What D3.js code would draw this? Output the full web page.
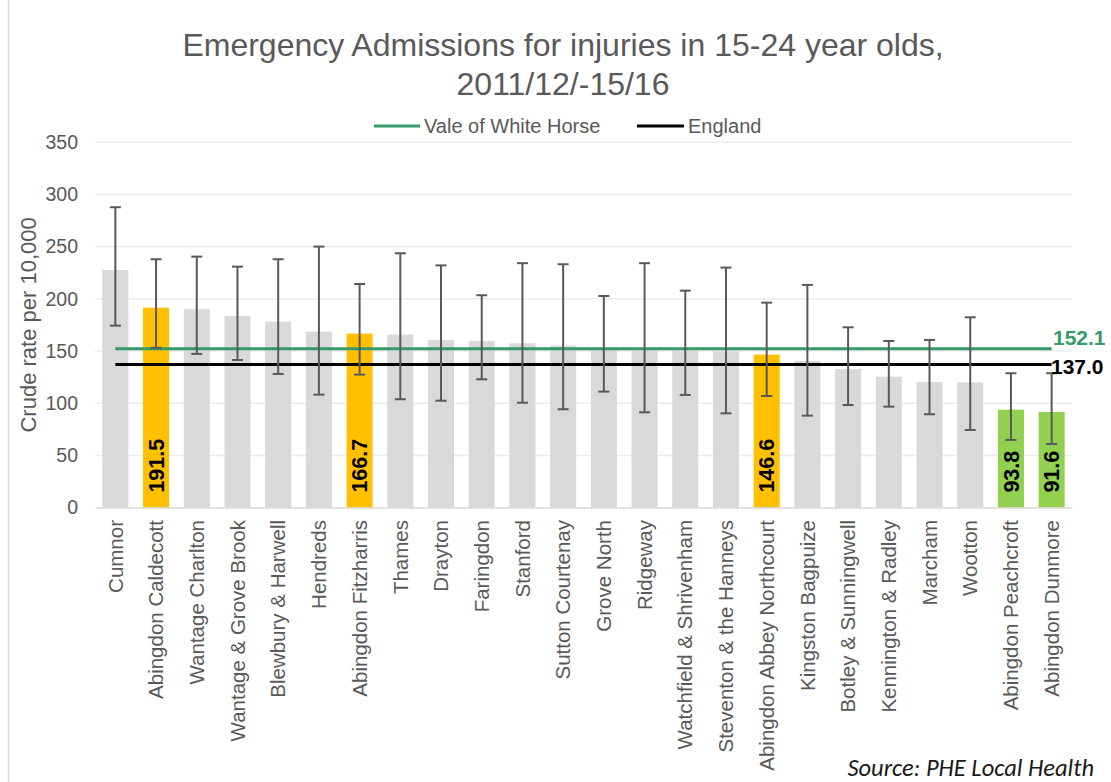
<!DOCTYPE html>
<html>
<head>
<meta charset="utf-8">
<script src="https://cdn.jsdelivr.net/npm/d3@7"></script>
<style>
  html, body { margin: 0; padding: 0; background: #ffffff; }
  svg { display: block; }
</style>
</head>
<body>
<svg id="chart" width="1111" height="782"></svg>
<script>
const categories = ["Cumnor", "Abingdon Caldecott", "Wantage Charlton", "Wantage & Grove Brook",
  "Blewbury & Harwell", "Hendreds", "Abingdon Fitzharris", "Thames", "Drayton", "Faringdon",
  "Stanford", "Sutton Courtenay", "Grove North", "Ridgeway", "Watchfield & Shrivenham",
  "Steventon & the Hanneys", "Abingdon Abbey Northcourt", "Kingston Bagpuize",
  "Botley & Sunningwell", "Kennington & Radley", "Marcham", "Wootton",
  "Abingdon Peachcroft", "Abingdon Dunmore"];
const rates = [227.6, 191.5, 190.0, 183.6, 178.1, 168.5, 166.7, 165.7, 160.6, 159.6,
  157.4, 155.1, 151.5, 150.5, 150.2, 149.8, 146.6, 140.5, 132.8, 125.4, 120.2, 120.0, 93.8, 91.6];
const lowerCI = [174.3, 153.0, 147.2, 141.4, 128.0, 108.2, 127.4, 103.8, 102.4, 122.9,
  100.5, 94.2, 111.1, 91.3, 107.9, 90.3, 106.9, 88.1, 98.3, 96.7, 89.4, 74.3, 64.8, 60.9];
const upperCI = [287.7, 237.9, 240.4, 230.8, 237.9, 250.0, 214.2, 243.6, 232.0, 203.4,
  234.1, 233.1, 202.7, 234.1, 207.8, 229.9, 196.3, 213.3, 172.7, 159.6, 160.6, 182.3, 128.7, 128.7];
const groups = ["other", "amber", "other", "other", "other", "other", "amber", "other", "other", "other",
  "other", "other", "other", "other", "other", "other", "amber", "other", "other", "other",
  "other", "other", "green", "green"];
const valeValue = 152.1;
const englandValue = 137.0;
const yTicks = [0, 50, 100, 150, 200, 250, 300, 350];
const titleLines = ["Emergency Admissions for injuries in 15-24 year olds,", "2011/12/-15/16"];
const legendNames = ["Vale of White Horse", "England"];
const yTitle = "Crude rate per 10,000";
const sourceText = "Source: PHE Local Health";

const data = categories.map((c, i) => ({ name: c, value: rates[i], lo: lowerCI[i], hi: upperCI[i], group: groups[i] }));

const svg = d3.select("#chart");
const font = "'Liberation Sans', Arial, sans-serif";
const textGrey = "#595959";
const colors = { other: "#d9d9d9", amber: "#ffc000", green: "#92d050" };
const valeColor = "#359a68";

const plotLeft = 95, plotRight = 1072, plotTop = 142.2, plotBottom = 507.6;

const x = d3.scaleBand().domain(categories).range([plotLeft, plotRight]).paddingInner(0.36).paddingOuter(0.18);
const y = d3.scaleLinear().domain([0, 350]).range([plotBottom, plotTop]);

// left border of chart area
svg.append("line").attr("x1", 8.5).attr("x2", 8.5).attr("y1", 0).attr("y2", 782)
  .attr("stroke", "#d9d9d9").attr("stroke-width", 1.5);

// gridlines
svg.append("g").selectAll("line").data(yTicks.filter(t => t > 0)).join("line")
  .attr("x1", plotLeft).attr("x2", plotRight)
  .attr("y1", d => y(d)).attr("y2", d => y(d))
  .attr("stroke", "#ececec").attr("stroke-width", 1.5);

// y axis labels
const yAxis = d3.axisLeft(y).tickValues(yTicks).tickSize(0).tickPadding(17);
const gy = svg.append("g").attr("transform", `translate(${plotLeft},0)`).call(yAxis);
gy.select(".domain").remove();
gy.selectAll("text").attr("font-family", font).attr("font-size", 19.5).attr("fill", textGrey);

// bars
svg.append("g").selectAll("rect").data(data).join("rect")
  .attr("x", d => x(d.name)).attr("width", x.bandwidth())
  .attr("y", d => y(d.value)).attr("height", d => y(0) - y(d.value))
  .attr("fill", d => colors[d.group]);

// baseline axis
const xAxis = d3.axisBottom(x).tickSize(0).tickFormat("");
const gx = svg.append("g").attr("transform", `translate(0,${plotBottom})`).call(xAxis);
gx.select(".domain").attr("stroke", "#d9d9d9").attr("stroke-width", 1.5);

// x labels
svg.append("g").selectAll("text").data(data).join("text")
  .attr("transform", d => `translate(${x(d.name) + x.bandwidth() / 2},520) rotate(-90)`)
  .attr("text-anchor", "end").attr("dy", "0.35em")
  .attr("font-family", font).attr("font-size", 20.5).attr("fill", textGrey)
  .text(d => d.name);

// reference lines
const cx = n => x(n) + x.bandwidth() / 2;
svg.append("line").attr("x1", cx(categories[0])).attr("x2", cx(categories[categories.length - 1]))
  .attr("y1", y(valeValue)).attr("y2", y(valeValue)).attr("stroke", valeColor).attr("stroke-width", 3);
svg.append("line").attr("x1", cx(categories[0])).attr("x2", cx(categories[categories.length - 1]))
  .attr("y1", y(englandValue)).attr("y2", y(englandValue)).attr("stroke", "#000").attr("stroke-width", 3);

// error bars
const eb = svg.append("g").attr("stroke", "#595959").attr("stroke-width", 2);
data.forEach(d => {
  const c = cx(d.name);
  eb.append("line").attr("x1", c).attr("x2", c).attr("y1", y(d.hi)).attr("y2", y(d.lo));
  eb.append("line").attr("x1", c - 5.5).attr("x2", c + 5.5).attr("y1", y(d.hi)).attr("y2", y(d.hi));
  eb.append("line").attr("x1", c - 5.5).attr("x2", c + 5.5).attr("y1", y(d.lo)).attr("y2", y(d.lo));
});

// value labels in highlighted bars
svg.append("g").selectAll("text").data(data.filter(d => d.group !== "other")).join("text")
  .attr("transform", d => `translate(${cx(d.name)},${plotBottom - 15}) rotate(-90)`)
  .attr("text-anchor", "start").attr("dy", "0.36em")
  .attr("font-family", font).attr("font-size", 21.5).attr("font-weight", "bold").attr("fill", "#000")
  .text(d => d3.format(".1f")(d.value));

// reference line labels
svg.append("text").attr("x", 1053).attr("y", y(valeValue) - 4)
  .attr("font-family", font).attr("font-size", 21).attr("font-weight", "bold").attr("fill", valeColor)
  .text(d3.format(".1f")(valeValue));
svg.append("text").attr("x", 1051).attr("y", y(englandValue) + 2).attr("dy", "0.35em")
  .attr("font-family", font).attr("font-size", 21).attr("font-weight", "bold").attr("fill", "#000")
  .text(d3.format(".1f")(englandValue));

// title
svg.append("g").selectAll("text").data(titleLines).join("text")
  .attr("x", 563).attr("y", (d, i) => 56 + i * 39)
  .attr("text-anchor", "middle").attr("font-family", font).attr("font-size", 32).attr("fill", textGrey)
  .text(d => d);

// legend
const legend = [
  { name: legendNames[0], color: valeColor, x1: 374, x2: 420 },
  { name: legendNames[1], color: "#000", x1: 637, x2: 684 }
];
const lg = svg.append("g");
legend.forEach(l => {
  lg.append("line").attr("x1", l.x1).attr("x2", l.x2).attr("y1", 126).attr("y2", 126)
    .attr("stroke", l.color).attr("stroke-width", 3);
  lg.append("text").attr("x", l.x2 + 4).attr("y", 126).attr("dy", "0.35em")
    .attr("font-family", font).attr("font-size", 20).attr("fill", textGrey).text(l.name);
});

// y title
svg.append("text").attr("transform", `translate(28,${(plotTop + plotBottom) / 2}) rotate(-90)`)
  .attr("text-anchor", "middle").attr("dy", "0.35em")
  .attr("font-family", font).attr("font-size", 22).attr("fill", textGrey).text(yTitle);

// source
svg.append("text").attr("x", 1094).attr("y", 776).attr("text-anchor", "end")
  .attr("font-family", "Carlito, 'Liberation Sans', Arial, sans-serif").attr("font-style", "italic")
  .attr("font-size", 24.5).attr("fill", "#1a1a1a").text(sourceText);
</script>
</body>
</html>
